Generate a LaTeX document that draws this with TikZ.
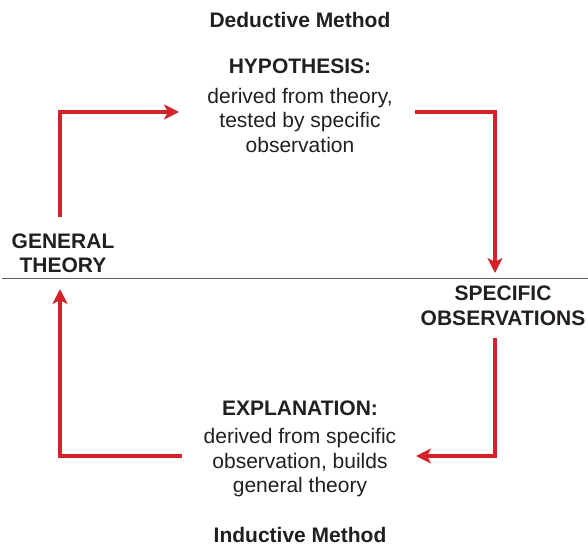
\documentclass[tikz,border=0pt]{standalone}
\usepackage{fontspec}
\setmainfont{Liberation Sans}
\usetikzlibrary{arrows.meta}
\definecolor{ared}{HTML}{D2232A}
\definecolor{txt}{HTML}{231F20}
\begin{document}
\begin{tikzpicture}[x=1pt,y=-1pt,
  lbl/.style={text=txt, font=\fontsize{21}{24.5}\selectfont, align=center, inner sep=0pt},
  ttl/.style={lbl, font=\fontsize{21}{24.5}\selectfont\bfseries},
  arr/.style={draw=ared, line width=4pt, line join=miter,
    -{Stealth[length=15pt,width=15pt,inset=4pt]}}]
\useasboundingbox (0,0) rectangle (588,546);
\draw[gray!75!black, line width=1.3pt] (2,278.5) -- (588,278.5);

\node[ttl] (ded) at (300,20) {Deductive Method};
\node[lbl] (hyp) at (300,106) {\textbf{HYPOTHESIS:}\\[5pt]derived from theory,\\tested by specific\\observation};
\node[ttl] (gen) at (63,253.5) {GENERAL\\THEORY};
\node[ttl] (spec) at (503,306) {SPECIFIC\\OBSERVATIONS};
\node[lbl] (expl) at (300,449) {\textbf{EXPLANATION:}\\[4pt]derived from specific\\observation, builds\\general theory};
\node[ttl] (ind) at (300,535) {Inductive Method};

\coordinate (g1) at (60,217);
\coordinate (h1) at (179,112);
\coordinate (h2) at (415,112);
\coordinate (s1) at (495,273);
\coordinate (s2) at (495,338);
\coordinate (e1) at (416,456);
\coordinate (e2) at (182,456);
\coordinate (g2) at (60,289);

\draw[arr] (g1) |- (h1);
\draw[arr] (h2) -| (s1);
\draw[arr] (s2) |- (e1);
\draw[arr] (e2) -| (g2);
\end{tikzpicture}
\end{document}
